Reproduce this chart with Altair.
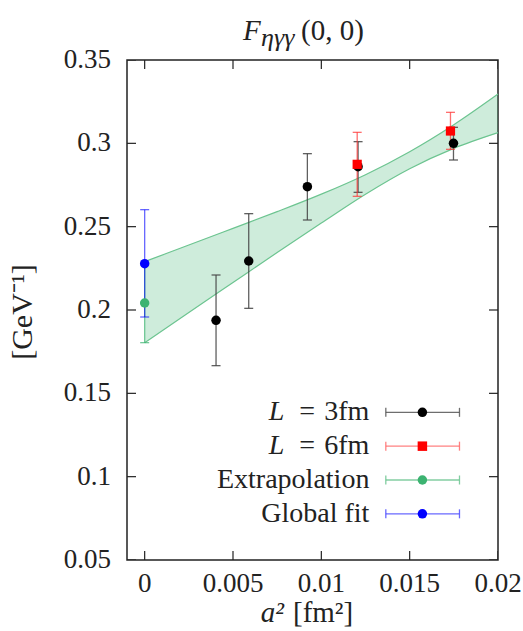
import altair as alt
import pandas as pd

# ---------------- data ----------------
x_3fm = [0.00404, 0.00589, 0.00921, 0.01208, 0.01748]
y_3fm = [0.1938, 0.2294, 0.2740, 0.2860, 0.3000]
lo_3fm = [0.1666, 0.2010, 0.2540, 0.2706, 0.2900]
hi_3fm = [0.2210, 0.2578, 0.2938, 0.3010, 0.3096]

x_6fm = [0.01203, 0.01731]
y_6fm = [0.2874, 0.3074]
lo_6fm = [0.2682, 0.2964]
hi_6fm = [0.3066, 0.3186]

x_extra = [0.0]
y_extra = [0.2042]
lo_extra = [0.1804]
hi_extra = [0.2280]

x_glob = [0.0]
y_glob = [0.2278]
lo_glob = [0.1958]
hi_glob = [0.2602]

band_x = [0.0, 0.0025, 0.005, 0.0075, 0.01, 0.0125, 0.015, 0.0175, 0.02]
band_upper = [0.2290, 0.2390, 0.2490, 0.2590, 0.2695, 0.2812, 0.2950, 0.3112, 0.3296]
band_lower = [0.1804, 0.1985, 0.2165, 0.2345, 0.2522, 0.2695, 0.2848, 0.2970, 0.3064]

x_ticks = [0.0, 0.005, 0.01, 0.015, 0.02]
x_tick_labels = ["0", "0.005", "0.01", "0.015", "0.02"]
y_ticks = [0.05, 0.1, 0.15, 0.2, 0.25, 0.3, 0.35]
y_tick_labels = ["0.05", "0.1", "0.15", "0.2", "0.25", "0.3", "0.35"]

legend_prefix = ["L", "L", "", ""]
legend_text = ["=\u20043fm", "=\u20046fm", "Extrapolation", "Global fit"]
legend_bar_colors = ["#555555", "#ff6b6b", "#6cc490", "#4d4dff"]
legend_mark_colors = ["#000000", "#ff0000", "#3cb371", "#0000ff"]
legend_shapes = ["circle", "square", "circle", "circle"]

FONT = "Liberation Serif"
INK = "#222222"
W, H = 371, 500

xs = alt.Scale(domain=[-0.001, 0.02], nice=False, zero=False)
ys = alt.Scale(domain=[0.05, 0.35], nice=False, zero=False)


def X(field):
    return alt.X(field, type="quantitative", scale=xs, axis=None)


def Y(field):
    return alt.Y(field, type="quantitative", scale=ys, axis=None)


band_df = pd.DataFrame({"x": band_x, "up": band_upper, "lo": band_lower})
band = alt.Chart(band_df).mark_area(color="#3cb371", opacity=0.25, interpolate="monotone").encode(
    x=X("x"), y=Y("lo"), y2="up")
band_up = alt.Chart(band_df).mark_line(color="#6cc490", strokeWidth=1.2, interpolate="monotone").encode(
    x=X("x"), y=Y("up"))
band_lo = alt.Chart(band_df).mark_line(color="#6cc490", strokeWidth=1.2, interpolate="monotone").encode(
    x=X("x"), y=Y("lo"))


def frame(xv, yv, lo, hi):
    return pd.DataFrame({"x": xv, "y": yv, "lo": lo, "hi": hi})


def errbar(df, color, opacity):
    base = alt.Chart(df)
    rule = base.mark_rule(color=color, strokeWidth=1.3, opacity=opacity).encode(
        x=X("x"), y=Y("lo"), y2="hi")
    cap_lo = base.mark_tick(color=color, orient="horizontal", size=9, thickness=1.3,
                            opacity=opacity).encode(x=X("x"), y=Y("lo"))
    cap_hi = base.mark_tick(color=color, orient="horizontal", size=9, thickness=1.3,
                            opacity=opacity).encode(x=X("x"), y=Y("hi"))
    return [rule, cap_lo, cap_hi]


def points(df, color, shape, size):
    return alt.Chart(df).mark_point(filled=True, color=color, shape=shape, size=size,
                                    opacity=1).encode(x=X("x"), y=Y("y"))


d3 = frame(x_3fm, y_3fm, lo_3fm, hi_3fm)
d6 = frame(x_6fm, y_6fm, lo_6fm, hi_6fm)
dex = frame(x_extra, y_extra, lo_extra, hi_extra)
dgl = frame(x_glob, y_glob, lo_glob, hi_glob)

layers = [band, band_up, band_lo]
layers += errbar(dex, "#3cb371", 0.7)
layers += errbar(dgl, "#0000ff", 0.6)
layers += errbar(d3, "#444444", 0.85)
layers += errbar(d6, "#ff3030", 0.7)
layers += [points(dex, "#3cb371", "circle", 90), points(dgl, "#0000ff", "circle", 90),
           points(d3, "#000000", "circle", 90), points(d6, "#ff0000", "square", 85)]

# inward ticks on all four sides
xt_df = pd.DataFrame({"x": x_ticks, "t": x_tick_labels})
yt_df = pd.DataFrame({"y": y_ticks, "t": y_tick_labels})
for yy in [0, H]:
    layers.append(alt.Chart(xt_df).mark_tick(orient="vertical", size=18, thickness=1.2,
                                             color=INK, clip=True, opacity=1).encode(
        x=X("x"), y=alt.value(yy)))
for xx in [0, W]:
    layers.append(alt.Chart(yt_df).mark_tick(orient="horizontal", size=18, thickness=1.2,
                                             color=INK, clip=True, opacity=1).encode(
        y=Y("y"), x=alt.value(xx)))

# tick labels
layers.append(alt.Chart(xt_df).mark_text(align="center", baseline="alphabetic", font=FONT,
                                         fontSize=27, color=INK).encode(
    x=X("x"), y=alt.value(H + 32), text="t:N"))
layers.append(alt.Chart(yt_df).mark_text(align="right", baseline="middle", font=FONT,
                                         fontSize=27, color=INK).encode(
    y=Y("y"), x=alt.value(-16), text="t:N"))

# legend (drawn inside the plot)
n = len(legend_text)
leg = pd.DataFrame({
    "prefix": legend_prefix,
    "text": legend_text,
    "bar": legend_bar_colors,
    "mark": legend_mark_colors,
    "shape": legend_shapes,
    "ly": [0.1386 - 0.0203 * i for i in range(n)],
})
leg["x0"] = 0.01365
leg["x1"] = 0.01782
leg["xm"] = 0.01572
leg["xt"] = 0.01272
leg["xp"] = 0.0079

legbase = alt.Chart(leg)
layers.append(legbase.mark_rule(strokeWidth=1.3, opacity=0.85).encode(
    x=X("x0"), x2="x1", y=Y("ly"), color=alt.Color("bar:N", scale=None)))
for f in ["x0", "x1"]:
    layers.append(legbase.mark_tick(orient="vertical", size=9, thickness=1.3, opacity=0.85).encode(
        x=X(f), y=Y("ly"), color=alt.Color("bar:N", scale=None)))
layers.append(legbase.mark_point(filled=True, size=90, opacity=1).encode(
    x=X("xm"), y=Y("ly"), color=alt.Color("mark:N", scale=None),
    shape=alt.Shape("shape:N", scale=None)))
layers.append(legbase.mark_text(align="right", baseline="middle", font=FONT, fontSize=28,
                                color=INK).encode(x=X("xt"), y=Y("ly"), text="text:N"))
layers.append(legbase.mark_text(align="right", baseline="middle", font=FONT, fontSize=28,
                                fontStyle="italic", color=INK).encode(
    x=X("xp"), y=Y("ly"), text="prefix:N"))

# titles as text
one = pd.DataFrame({"k": [0]})


def label(txt, x, y, size=28, italic=False, align="left", baseline="alphabetic", angle=0):
    kw = dict(align=align, baseline=baseline, font=FONT, fontSize=size, color=INK)
    if italic:
        kw["fontStyle"] = "italic"
    if angle:
        kw["angle"] = angle
    return alt.Chart(one).mark_text(**kw).encode(x=alt.value(x), y=alt.value(y), text=alt.value(txt))


layers += [
    label("F", 116, -20, size=29, italic=True),
    label("ηγγ", 134, -14, size=26, italic=True),
    label("(0, 0)", 174, -20, size=29),
    label("a²", 157, 562, size=29, italic=True, align="right"),
    label("[fm²]", 166, 562, size=29),
    label("[GeV⁻¹]", -95, 252, size=30, align="center", angle=270),
]

chart = alt.layer(*layers).properties(
    width=W, height=H,
    autosize=alt.AutoSizeParams(type="none"),
    padding={"left": 127, "top": 60, "right": 25, "bottom": 71},
).configure_view(stroke=INK, strokeWidth=1.5)

chart.save("out.html", embed_options={"renderer": "svg", "actions": False})
